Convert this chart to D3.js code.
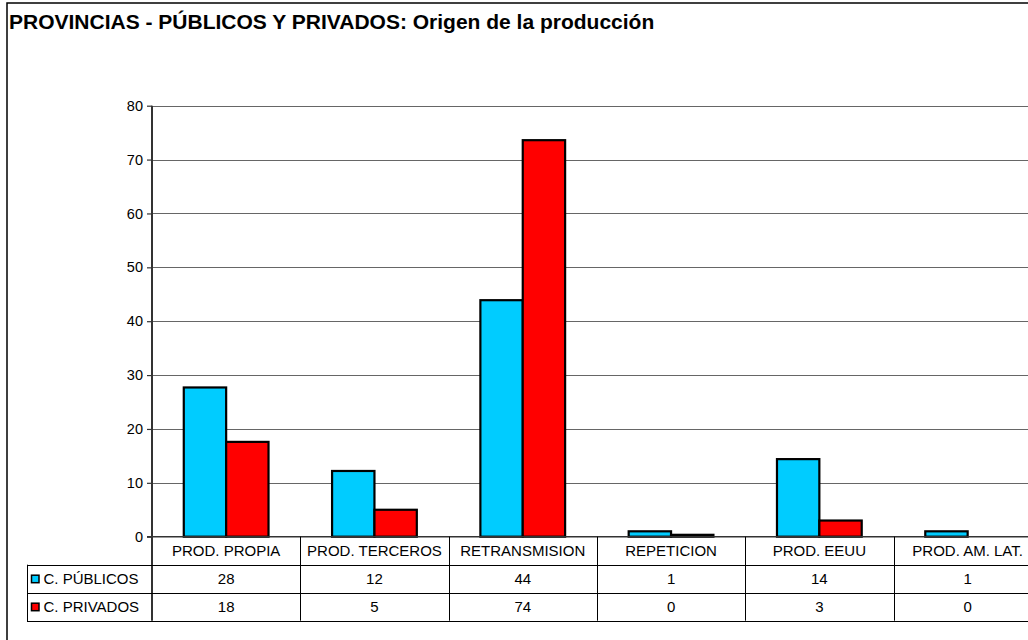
<!DOCTYPE html>
<html>
<head>
<meta charset="utf-8">
<script src="https://cdn.jsdelivr.net/npm/d3@7"></script>
<style>
  html, body { margin: 0; padding: 0; background: #fff; overflow: hidden; }
  svg { display: block; font-family: "Liberation Sans", Arial, sans-serif; }
</style>
</head>
<body>
<svg id="chart" width="1028" height="640"></svg>
<script>
const titleText = "PROVINCIAS - PÚBLICOS Y PRIVADOS: Origen de la producción";
const categories = ["PROD. PROPIA", "PROD. TERCEROS", "RETRANSMISION", "REPETICION", "PROD. EEUU", "PROD. AM. LAT."];
const seriesNames = ["C. PÚBLICOS", "C. PRIVADOS"];
const seriesColors = ["#00CCFF", "#FF0000"];
const publicos = [27.7, 12.2, 43.9, 1.0, 14.4, 1.0];
const privados = [17.6, 5.0, 73.6, 0.35, 3.0, 0];
const yTicks = [0, 10, 20, 30, 40, 50, 60, 70, 80];

const seriesValues = [publicos, privados];
const svg = d3.select("#chart");

// layout
const plotLeft = 152, plotTop = 105.7, plotBottom = 536.7;
const colW = 148.3;
const plotRight = plotLeft + colW * categories.length;
const rowH = 28;
const legendLeft = 27;

// outer border
svg.append("rect")
  .attr("x", 7).attr("y", 3)
  .attr("width", 1100).attr("height", 700)
  .attr("fill", "#fff").attr("stroke", "#000").attr("stroke-width", 1.5);

// title
svg.append("text")
  .attr("x", 9).attr("y", 29)
  .attr("font-size", "21px").attr("font-weight", "bold")
  .attr("fill", "#000")
  .text(titleText);

const x = d3.scaleBand().domain(categories).range([plotLeft, plotRight]).paddingInner(0).paddingOuter(0);
const y = d3.scaleLinear().domain([0, 80]).range([plotBottom, plotTop]);
const bw = x.bandwidth();
const gap = bw * 1.5 / 3.5;
const xs = d3.scaleBand().domain(d3.range(seriesNames.length)).range([gap / 2, bw - gap / 2]).padding(0);

// gridlines
svg.append("g")
  .selectAll("line")
  .data(yTicks.filter(t => t > 0))
  .join("line")
  .attr("x1", plotLeft).attr("x2", plotRight)
  .attr("y1", d => Math.round(y(d)) + 0.5).attr("y2", d => Math.round(y(d)) + 0.5)
  .attr("stroke", "#666").attr("stroke-width", 1.2);

// y axis
const yAxis = d3.axisLeft(y).tickValues(yTicks).tickSize(5).tickPadding(4).tickFormat(d3.format("d"));
const gy = svg.append("g").attr("transform", `translate(${plotLeft},0)`).call(yAxis);
gy.select(".domain").remove();
gy.selectAll(".tick line").attr("stroke", "#333").attr("stroke-width", 1.2);
gy.selectAll(".tick text").attr("font-size", "14.5px").attr("fill", "#000")
  .attr("font-family", "Liberation Sans, Arial, sans-serif");

// bars
seriesValues.forEach((vals, si) => {
  svg.append("g")
    .selectAll("rect")
    .data(vals.map((v, i) => ({ cat: categories[i], v })))
    .join("rect")
    .attr("x", d => x(d.cat) + xs(si))
    .attr("y", d => y(d.v))
    .attr("width", xs.bandwidth())
    .attr("height", d => y(0) - y(d.v))
    .attr("fill", seriesColors[si])
    .attr("stroke", "#000").attr("stroke-width", 2.2)
    .attr("stroke-linejoin", "miter");
});

// axis lines
svg.append("line")
  .attr("x1", plotLeft).attr("x2", plotLeft)
  .attr("y1", plotTop).attr("y2", plotBottom + rowH * 3)
  .attr("stroke", "#333").attr("stroke-width", 2);
svg.append("line")
  .attr("x1", plotLeft - 5).attr("x2", plotRight)
  .attr("y1", plotBottom).attr("y2", plotBottom)
  .attr("stroke", "#333").attr("stroke-width", 1.6);

// data table
const table = svg.append("g");
[1, 2, 3].forEach(r => {
  table.append("line")
    .attr("x1", legendLeft).attr("x2", plotRight)
    .attr("y1", Math.round(plotBottom + rowH * r) + 0.5).attr("y2", Math.round(plotBottom + rowH * r) + 0.5)
    .attr("stroke", "#000").attr("stroke-width", 1);
});
table.append("line")
  .attr("x1", legendLeft + 0.5).attr("x2", legendLeft + 0.5)
  .attr("y1", plotBottom + rowH).attr("y2", plotBottom + rowH * 3 + 1)
  .attr("stroke", "#000").attr("stroke-width", 1);
table.selectAll("line.col")
  .data(categories.slice(1).concat(["__end"]))
  .join("line").attr("class", "col")
  .attr("x1", d => Math.round(d === "__end" ? plotRight : x(d)) + 0.5)
  .attr("x2", d => Math.round(d === "__end" ? plotRight : x(d)) + 0.5)
  .attr("y1", plotBottom).attr("y2", plotBottom + rowH * 3)
  .attr("stroke", "#000").attr("stroke-width", 1);

table.selectAll("text.cat")
  .data(categories)
  .join("text").attr("class", "cat")
  .attr("x", d => x(d) + bw / 2)
  .attr("y", plotBottom + rowH / 2)
  .attr("dy", "0.36em")
  .attr("text-anchor", "middle")
  .attr("font-size", "15px").attr("fill", "#000")
  .text(d => d);

const fmt = d3.format(".0f");
seriesValues.forEach((vals, si) => {
  const cy = plotBottom + rowH * (si + 1) + rowH / 2;
  table.append("g").selectAll("text")
    .data(vals.map((v, i) => ({ cat: categories[i], v })))
    .join("text")
    .attr("x", d => x(d.cat) + bw / 2)
    .attr("y", cy)
    .attr("dy", "0.36em")
    .attr("text-anchor", "middle")
    .attr("font-size", "15px").attr("fill", "#000")
    .text(d => fmt(Math.round(d.v)));
  table.append("rect")
    .attr("x", 31.5).attr("y", cy - 3.5)
    .attr("width", 7.5).attr("height", 7.5)
    .attr("fill", seriesColors[si]).attr("stroke", "#000").attr("stroke-width", 1.5);
  table.append("text")
    .attr("x", 43.5).attr("y", cy)
    .attr("dy", "0.36em")
    .attr("font-size", "15px").attr("fill", "#000")
    .text(seriesNames[si]);
});
</script>
</body>
</html>
